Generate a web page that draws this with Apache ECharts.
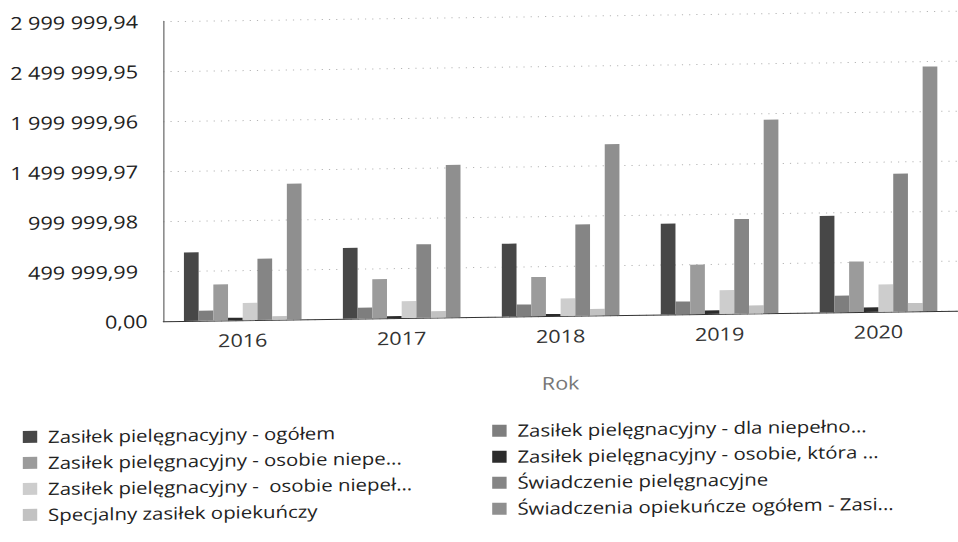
<!DOCTYPE html>
<html lang="pl">
<head>
<meta charset="utf-8">
<title>Świadczenia opiekuńcze 2016–2020</title>
<script src="https://cdn.jsdelivr.net/npm/echarts@6/dist/echarts.min.js"></script>
<style>
  html, body { margin: 0; padding: 0; background: #ffffff; overflow: hidden; }
  /* outer frame: slight slant of the whole sheet */
  #frame {
    width: 958px;
    height: 542px;
    overflow: hidden;
    transform: skewY(-0.76deg);
    transform-origin: 479px 271px;
  }
  /* chart is laid out narrower and widened horizontally */
  #chart {
    width: 798px;
    height: 542px;
    transform: scaleX(1.2005);
    transform-origin: 0 0;
  }
</style>
</head>
<body>
<div id="frame"><div id="chart"></div></div>
<script>
// Lata (oś kategorii)
const years = ['2016', '2017', '2018', '2019', '2020'];

// Wartości serii, zł
const zpOgolem         = [685000, 708000, 729000, 908000, 965000];
const zpDlaDziecka     = [100000, 108000, 119000, 128000, 165000];
const zpOsobie16       = [360000, 392000, 392000, 495000, 505000];
const zpOsobie75       = [25000, 20000, 20000, 35000, 45000];
const zpOsobie21       = [172000, 168000, 175000, 235000, 272000];
const swPielegnacyjne  = [612000, 735000, 912000, 945000, 1378000];
const specjalnyZasilek = [35000, 65000, 65000, 80000, 82000];
const swOgolem         = [1359000, 1525000, 1712000, 1935000, 2445000];

// Podziałka osi wartości
const yStep = 499999.99;
const yMax = 2999999.94;

// Nazwy serii w kolejności słupków
const seriesNames = [
  'Zasiłek pielęgnacyjny - ogółem',
  'Zasiłek pielęgnacyjny - dla niepełno...',
  'Zasiłek pielęgnacyjny - osobie niepe...',
  'Zasiłek pielęgnacyjny - osobie, która ...',
  'Zasiłek pielęgnacyjny -  osobie niepeł...',
  'Świadczenie pielęgnacyjne',
  'Specjalny zasiłek opiekuńczy',
  'Świadczenia opiekuńcze ogółem - Zasi...'
];
const seriesValues = [zpOgolem, zpDlaDziecka, zpOsobie16, zpOsobie75, zpOsobie21, swPielegnacyjne, specjalnyZasilek, swOgolem];
const seriesColors = ['#474747', '#7e7e7e', '#9b9b9b', '#2c2c2c', '#cdcdcd', '#858585', '#c2c2c2', '#8f8f8f'];

// Dwie kolumny legendy
const legendLeft  = [seriesNames[0], seriesNames[2], seriesNames[4], seriesNames[6]];
const legendRight = [seriesNames[1], seriesNames[3], seriesNames[5], seriesNames[7]];

const FONT = "'Open Sans', 'Noto Sans', sans-serif";

function formatPl(v) {
  const s = (Math.round(v * 100) / 100).toFixed(2);
  const parts = s.split('.');
  const intPart = parts[0].replace(/\B(?=(\d{3})+(?!\d))/g, ' ');
  return intPart + ',' + parts[1];
}

const legendBase = {
  orient: 'vertical',
  icon: 'rect',
  padding: 0,
  itemWidth: 12,
  itemHeight: 12,
  itemGap: 6,
  selectedMode: false,
  textStyle: {
    fontFamily: FONT,
    fontSize: 17,
    lineHeight: 20,
    color: '#222222',
    padding: [0, 0, 0, 4]
  }
};

const chart = echarts.init(document.getElementById('chart'), null, { renderer: 'svg' });

chart.setOption({
  animation: false,
  backgroundColor: '#ffffff',
  color: seriesColors,
  grid: { left: 136, right: -8, top: 17, bottom: 225, containLabel: false },
  legend: [
    Object.assign({}, legendBase, { left: 19, top: 421, data: legendLeft }),
    Object.assign({}, legendBase, { left: 410, top: 421, data: legendRight })
  ],
  xAxis: {
    type: 'category',
    data: years,
    name: 'Rok',
    nameLocation: 'middle',
    nameGap: 58,
    nameTextStyle: { fontFamily: FONT, fontSize: 18, color: '#777777' },
    axisLine: { show: true, lineStyle: { color: '#333333', width: 1 } },
    axisTick: { show: false },
    axisLabel: { fontFamily: FONT, fontSize: 18, color: '#333333', margin: 11 }
  },
  yAxis: {
    type: 'value',
    min: 0,
    max: yMax,
    interval: yStep,
    axisLine: { show: true, lineStyle: { color: '#666666', width: 1 } },
    axisTick: { show: false },
    splitLine: { show: true, lineStyle: { color: '#b5b5b5', type: [1, 5], width: 1 } },
    axisLabel: {
      fontFamily: FONT,
      fontSize: 18,
      color: '#222222',
      margin: 13,
      formatter: function (v) {
        return v === 0 ? '{z|' + formatPl(v) + '}' : '{n|' + formatPl(v) + '}';
      },
      rich: {
        z: { fontFamily: FONT, fontSize: 18, color: '#222222' },
        n: { fontFamily: FONT, fontSize: 18, color: '#222222', padding: [0, 8, 0, 0] }
      }
    }
  },
  series: seriesNames.map(function (name, i) {
    return {
      name: name,
      type: 'bar',
      data: seriesValues[i],
      barGap: '0%',
      barCategoryGap: '26%',
      itemStyle: { color: seriesColors[i] }
    };
  })
});
</script>
</body>
</html>
